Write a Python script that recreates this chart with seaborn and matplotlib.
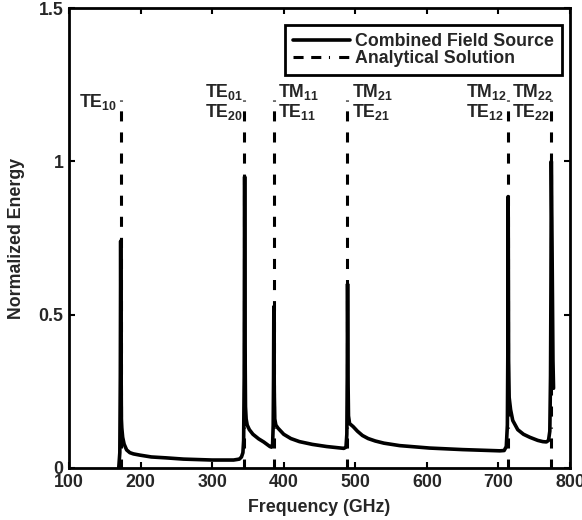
import matplotlib
matplotlib.use("Agg")
import matplotlib.pyplot as plt
import seaborn as sns
import pandas as pd
from matplotlib.lines import Line2D

# ---- data ----
freq = [169.5, 171.0, 171.7, 172.2, 172.7, 173.2, 173.8, 175, 177, 180.5, 185, 190,
        199, 215, 236, 260, 300, 330, 338, 341, 343, 344, 344.8, 345.4, 346.0, 346.6,
        347.5, 349, 352, 357, 365, 372, 380.7, 383, 384.5, 385.3, 385.8, 386.2, 386.8,
        387.5, 389, 392, 400, 410, 422, 440, 460, 476, 484, 487, 488.2, 488.8, 489.2,
        489.8, 490.5, 492, 497, 503, 510, 518, 528, 540, 562, 604, 650, 702, 708, 711,
        712.5, 713.2, 713.6, 714.2, 715, 717, 720, 727, 735, 744, 755, 762, 767, 770,
        771.8, 772.8, 773.4, 773.9, 775, 776.2, 777]
energy = [0.0, 0.05, 0.3, 0.74, 0.35, 0.16, 0.13, 0.1, 0.078, 0.059, 0.05, 0.046,
          0.042, 0.036, 0.033, 0.029, 0.026, 0.026, 0.029, 0.036, 0.05, 0.09, 0.3, 0.95,
          0.4, 0.2, 0.16, 0.14, 0.125, 0.11, 0.095, 0.085, 0.07, 0.068, 0.078, 0.14, 0.3,
          0.526, 0.25, 0.16, 0.14, 0.13, 0.11, 0.096, 0.086, 0.077, 0.07, 0.066, 0.064,
          0.068, 0.11, 0.3, 0.60, 0.3, 0.17, 0.145, 0.135, 0.12, 0.106, 0.096, 0.088,
          0.081, 0.073, 0.065, 0.06, 0.056, 0.057, 0.07, 0.14, 0.4, 0.885, 0.35, 0.23,
          0.19, 0.155, 0.125, 0.11, 0.10, 0.09, 0.086, 0.085, 0.09, 0.12, 0.3, 0.6, 1.0,
          0.7, 0.35, 0.26]

analytic_freq = [172.0, 345.2, 386.0, 489.0, 713.5, 774.0]
analytic_top = 1.2

mode_labels = ["TE$_{10}$", "TE$_{01}$\nTE$_{20}$", "TM$_{11}$\nTE$_{11}$",
               "TM$_{21}$\nTE$_{21}$", "TM$_{12}$\nTE$_{12}$", "TM$_{22}$\nTE$_{22}$"]
label_x = [168.0, 343.5, 391.5, 495.0, 712.0, 718.5]
label_ha = ["right", "right", "left", "left", "right", "left"]

xticks = [100, 200, 300, 400, 500, 600, 700, 800]
yticks = [0, 0.5, 1, 1.5]
ytick_labels = ["0", "0.5", "1", "1.5"]

# ---- style ----
sns.set_style("ticks")
plt.rcParams["font.family"] = ["Liberation Sans", "DejaVu Sans"]
plt.rcParams["font.weight"] = "bold"
plt.rcParams["mathtext.fontset"] = "custom"
plt.rcParams["mathtext.rm"] = "Liberation Sans:bold"
plt.rcParams["mathtext.bf"] = "Liberation Sans:bold"
plt.rcParams["mathtext.default"] = "bf"
FS = 12.8

fig = plt.figure(figsize=(5.82, 5.2), dpi=100)
ax = fig.add_axes([69 / 582, 52 / 520, 501 / 582, 460 / 520])

df = pd.DataFrame({"Frequency": freq, "Energy": energy})
sns.lineplot(data=df, x="Frequency", y="Energy", sort=False, estimator=None,
             color="black", lw=2.6, ax=ax, zorder=3)

dash_seq = [0.35, 3.2]
for _ in range(20):
    dash_seq += [3.3, 3.6]
dash_style = (0, tuple(dash_seq))
for f in analytic_freq:
    ax.plot([f, f], [analytic_top, 0], color="black", lw=2.2,
            linestyle=dash_style, zorder=2, solid_capstyle="butt",
            dash_capstyle="butt")

for lab, lx, ha in zip(mode_labels, label_x, label_ha):
    ax.text(lx, 1.193, lab, ha=ha, va="center", fontsize=FS, fontweight="bold",
            multialignment="left", linespacing=1.0)

ax.set_xlim(100, 800)
ax.set_ylim(0, 1.5)
ax.set_xticks(xticks)
ax.set_xticklabels([str(t) for t in xticks], fontsize=FS, fontweight="bold")
ax.set_yticks(yticks)
ax.set_yticklabels(ytick_labels, fontsize=FS, fontweight="bold")
ax.tick_params(direction="in", length=4, width=1.5, top=True, right=True,
               pad=4, color="black")
for s in ax.spines.values():
    s.set_visible(True)
    s.set_linewidth(2.0)
    s.set_color("black")

ax.set_xlabel("Frequency (GHz)", fontsize=FS, fontweight="bold", labelpad=6)
ax.set_ylabel("Normalized Energy", fontsize=FS, fontweight="bold", labelpad=10)

handles = [Line2D([0], [0], color="black", lw=2.6),
           Line2D([0], [0], color="black", lw=2.2, linestyle=(0, (3.3, 2.5, 3.3, 2.5, 0.35, 3.0)))]
leg = ax.legend(handles, ["Combined Field Source", "Analytical Solution"],
                loc="upper right", bbox_to_anchor=(0.984, 0.963), borderaxespad=0,
                fancybox=False, framealpha=1, edgecolor="black",
                prop={"size": FS, "weight": "bold"}, handlelength=3.2,
                handletextpad=0.3, labelspacing=0.0, borderpad=0.45)
leg.get_frame().set_linewidth(2.0)

fig.savefig("out.png", dpi=100)
